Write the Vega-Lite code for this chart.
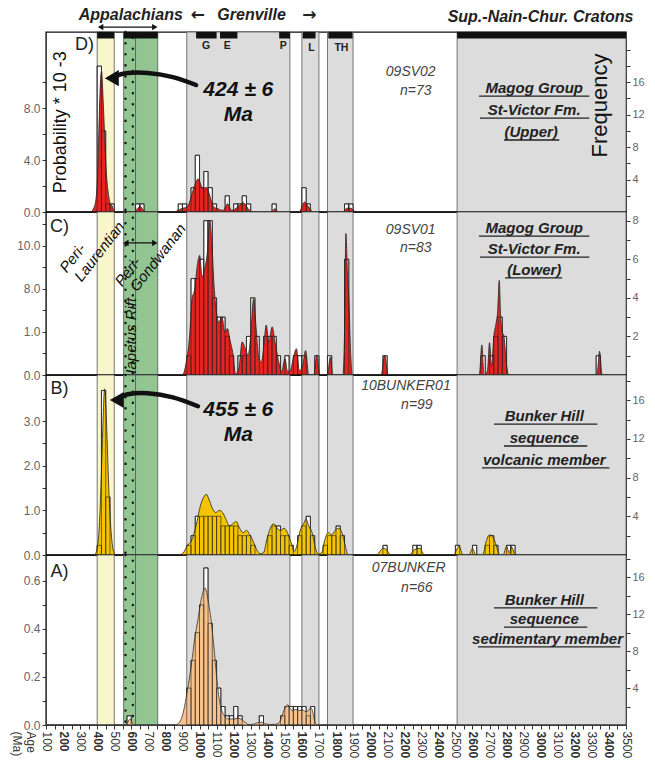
{
"$schema": "https://vega.github.io/schema/vega-lite/v6.json",
"padding": {"left": 9, "top": 5, "right": 5, "bottom": 2},
"background": "white",
"spacing": 0,
"bounds": "flush",
"config": {
 "font": "Liberation Sans",
 "view": {"stroke": "#111", "strokeWidth": 1.4},
 "axis": {"domain": false, "grid": false, "tickColor": "#333", "tickSize": 4, "labelColor": "#666", "labelFontSize": 12}
},
"datasets": {
 "bands": [{"a":400,"b":500,"zone":"yellow"},{"a":555,"b":625,"zone":"rift"},{"a":625,"b":755,"zone":"green"},{"a":925,"b":1530,"zone":"grey"},{"a":1600,"b":1700,"zone":"grey"},{"a":1750,"b":1900,"zone":"grey"},{"a":2510,"b":3500,"zone":"grey"}],
 "tabs": [{"a":400,"b":500},{"a":555,"b":755},{"a":980,"b":1100},{"a":1120,"b":1222},{"a":1467,"b":1530},{"a":1605,"b":1680},{"a":1755,"b":1897},{"a":2510,"b":3500}],
 "pdpD": [{"a":100,"v":0},{"a":360,"v":0},{"a":380,"v":0.3},{"a":393,"v":1.0},{"a":403,"v":3.0},{"a":410,"v":6.3},{"a":416,"v":9.0},{"a":422,"v":10.6},{"a":426,"v":10.8},{"a":432,"v":9.5},{"a":437,"v":8.0},{"a":442,"v":6.4},{"a":450,"v":4.0},{"a":456,"v":2.6},{"a":462,"v":1.8},{"a":470,"v":1.0},{"a":478,"v":0.6},{"a":487,"v":0.5},{"a":495,"v":0.2},{"a":505,"v":0},{"a":620,"v":0},{"a":638,"v":0.3},{"a":652,"v":0.45},{"a":668,"v":0.2},{"a":685,"v":0},{"a":850,"v":0},{"a":870,"v":0.1},{"a":893,"v":0.25},{"a":928,"v":0.4},{"a":945,"v":0.9},{"a":960,"v":1.6},{"a":972,"v":2.05},{"a":985,"v":2.45},{"a":991,"v":2.56},{"a":1000,"v":2.4},{"a":1012,"v":1.95},{"a":1020,"v":1.8},{"a":1030,"v":1.85},{"a":1040,"v":1.9},{"a":1050,"v":1.7},{"a":1059,"v":1.3},{"a":1070,"v":0.8},{"a":1079,"v":0.5},{"a":1095,"v":0.3},{"a":1108,"v":0.25},{"a":1125,"v":0.15},{"a":1140,"v":0.13},{"a":1155,"v":0.45},{"a":1164,"v":0.64},{"a":1175,"v":0.4},{"a":1187,"v":0.13},{"a":1200,"v":0.15},{"a":1215,"v":0.3},{"a":1235,"v":0.5},{"a":1256,"v":0.72},{"a":1270,"v":0.55},{"a":1285,"v":0.25},{"a":1300,"v":0.08},{"a":1314,"v":0},{"a":1420,"v":0},{"a":1442,"v":0.25},{"a":1462,"v":0},{"a":1585,"v":0},{"a":1600,"v":0.4},{"a":1615,"v":0.77},{"a":1630,"v":0.55},{"a":1648,"v":0.25},{"a":1665,"v":0},{"a":1840,"v":0},{"a":1858,"v":0.25},{"a":1869,"v":0.3},{"a":1880,"v":0.3},{"a":1893,"v":0.25},{"a":1910,"v":0.05},{"a":1925,"v":0},{"a":3500,"v":0}],
 "histD": [{"a":400,"b":425,"n":18},{"a":425,"b":450,"n":10},{"a":450,"b":475,"n":1},{"a":475,"b":500,"n":1},{"a":625,"b":650,"n":1},{"a":650,"b":675,"n":1},{"a":875,"b":900,"n":1},{"a":900,"b":925,"n":1},{"a":950,"b":975,"n":3},{"a":975,"b":1000,"n":7},{"a":1000,"b":1025,"n":3},{"a":1025,"b":1050,"n":5},{"a":1050,"b":1075,"n":3},{"a":1075,"b":1100,"n":1},{"a":1150,"b":1175,"n":2},{"a":1200,"b":1225,"n":1},{"a":1225,"b":1250,"n":1},{"a":1250,"b":1275,"n":2},{"a":1275,"b":1300,"n":1},{"a":1425,"b":1450,"n":1},{"a":1600,"b":1625,"n":3},{"a":1625,"b":1650,"n":1},{"a":1850,"b":1875,"n":1},{"a":1875,"b":1900,"n":1}],
 "pdpC": [{"a":100,"v":0},{"a":900,"v":0},{"a":922,"v":0.3},{"a":942,"v":0.92},{"a":956,"v":1.77},{"a":972,"v":2.0},{"a":987,"v":2.55},{"a":1001,"v":2.78},{"a":1015,"v":2.28},{"a":1030,"v":2.47},{"a":1046,"v":2.86},{"a":1060,"v":3.6},{"a":1073,"v":3.0},{"a":1085,"v":2.09},{"a":1099,"v":1.47},{"a":1113,"v":1.23},{"a":1132,"v":1.35},{"a":1148,"v":1.0},{"a":1164,"v":1.08},{"a":1177,"v":0.84},{"a":1197,"v":0.46},{"a":1211,"v":0.02},{"a":1230,"v":0.15},{"a":1250,"v":0.77},{"a":1269,"v":0.61},{"a":1285,"v":0.46},{"a":1300,"v":0.92},{"a":1317,"v":1.77},{"a":1332,"v":1.08},{"a":1348,"v":0.38},{"a":1363,"v":0.3},{"a":1377,"v":0.69},{"a":1391,"v":1.16},{"a":1406,"v":0.77},{"a":1426,"v":1.12},{"a":1442,"v":0.77},{"a":1461,"v":0.38},{"a":1481,"v":0.08},{"a":1501,"v":0.38},{"a":1516,"v":0.08},{"a":1532,"v":0.1},{"a":1550,"v":0.4},{"a":1568,"v":0.61},{"a":1585,"v":0.1},{"a":1603,"v":0.2},{"a":1622,"v":0.57},{"a":1640,"v":0},{"a":1670,"v":0},{"a":1687,"v":0.46},{"a":1705,"v":0},{"a":1750,"v":0},{"a":1766,"v":0.42},{"a":1782,"v":0},{"a":1840,"v":0},{"a":1850,"v":1.0},{"a":1858,"v":3.29},{"a":1867,"v":2.4},{"a":1876,"v":1.7},{"a":1886,"v":0.5},{"a":1896,"v":0},{"a":2065,"v":0},{"a":2085,"v":0.46},{"a":2105,"v":0},{"a":2640,"v":0},{"a":2655,"v":0.7},{"a":2668,"v":0},{"a":2688,"v":0.1},{"a":2700,"v":0.75},{"a":2712,"v":0.2},{"a":2725,"v":0.9},{"a":2738,"v":1.2},{"a":2748,"v":1.5},{"a":2757,"v":2.2},{"a":2765,"v":1.4},{"a":2775,"v":1.0},{"a":2785,"v":0.9},{"a":2798,"v":0.3},{"a":2812,"v":0},{"a":3330,"v":0},{"a":3345,"v":0.55},{"a":3360,"v":0},{"a":3500,"v":0}],
 "histC": [{"a":925,"b":950,"n":1},{"a":950,"b":975,"n":5},{"a":975,"b":1000,"n":5},{"a":1000,"b":1025,"n":6},{"a":1025,"b":1050,"n":8},{"a":1050,"b":1075,"n":8},{"a":1075,"b":1100,"n":4},{"a":1100,"b":1125,"n":3},{"a":1125,"b":1150,"n":3},{"a":1150,"b":1175,"n":2},{"a":1175,"b":1200,"n":1},{"a":1225,"b":1250,"n":1},{"a":1250,"b":1275,"n":1},{"a":1275,"b":1300,"n":2},{"a":1300,"b":1325,"n":4},{"a":1325,"b":1350,"n":2},{"a":1375,"b":1400,"n":2},{"a":1400,"b":1425,"n":2},{"a":1425,"b":1450,"n":2},{"a":1450,"b":1475,"n":1},{"a":1500,"b":1525,"n":1},{"a":1550,"b":1575,"n":1},{"a":1575,"b":1600,"n":1},{"a":1600,"b":1625,"n":1},{"a":1675,"b":1700,"n":1},{"a":1750,"b":1775,"n":1},{"a":1850,"b":1875,"n":6},{"a":2075,"b":2100,"n":1},{"a":2650,"b":2675,"n":1},{"a":2700,"b":2725,"n":1},{"a":2725,"b":2750,"n":2},{"a":2750,"b":2775,"n":3},{"a":2775,"b":2800,"n":2},{"a":3325,"b":3350,"n":1}],
 "pdpB": [{"a":100,"v":0},{"a":383,"v":0},{"a":400,"v":0.15},{"a":410,"v":0.5},{"a":420,"v":1.3},{"a":430,"v":2.5},{"a":437,"v":3.3},{"a":443,"v":3.72},{"a":450,"v":3.4},{"a":458,"v":2.6},{"a":466,"v":1.7},{"a":474,"v":1.0},{"a":482,"v":0.5},{"a":490,"v":0.2},{"a":498,"v":0.05},{"a":505,"v":0},{"a":880,"v":0},{"a":905,"v":0.05},{"a":930,"v":0.22},{"a":950,"v":0.3},{"a":965,"v":0.45},{"a":985,"v":0.75},{"a":1005,"v":1.1},{"a":1025,"v":1.3},{"a":1040,"v":1.36},{"a":1055,"v":1.25},{"a":1075,"v":1.05},{"a":1095,"v":0.95},{"a":1115,"v":1.0},{"a":1135,"v":0.95},{"a":1155,"v":0.8},{"a":1175,"v":0.65},{"a":1195,"v":0.7},{"a":1215,"v":0.75},{"a":1235,"v":0.6},{"a":1255,"v":0.5},{"a":1275,"v":0.55},{"a":1295,"v":0.45},{"a":1315,"v":0.3},{"a":1335,"v":0.12},{"a":1355,"v":0.03},{"a":1375,"v":0.05},{"a":1395,"v":0.35},{"a":1415,"v":0.6},{"a":1435,"v":0.7},{"a":1455,"v":0.6},{"a":1475,"v":0.55},{"a":1495,"v":0.6},{"a":1515,"v":0.5},{"a":1535,"v":0.3},{"a":1555,"v":0.08},{"a":1570,"v":0.2},{"a":1590,"v":0.55},{"a":1610,"v":0.7},{"a":1625,"v":0.8},{"a":1640,"v":0.65},{"a":1660,"v":0.5},{"a":1680,"v":0.15},{"a":1695,"v":0.02},{"a":1715,"v":0.05},{"a":1735,"v":0.35},{"a":1755,"v":0.5},{"a":1775,"v":0.45},{"a":1795,"v":0.55},{"a":1815,"v":0.6},{"a":1835,"v":0.5},{"a":1855,"v":0.2},{"a":1870,"v":0},{"a":2040,"v":0},{"a":2060,"v":0.1},{"a":2080,"v":0.15},{"a":2100,"v":0.1},{"a":2120,"v":0},{"a":2230,"v":0},{"a":2260,"v":0.12},{"a":2290,"v":0.15},{"a":2320,"v":0},{"a":2490,"v":0},{"a":2520,"v":0.2},{"a":2545,"v":0},{"a":2580,"v":0},{"a":2600,"v":0.15},{"a":2620,"v":0},{"a":2660,"v":0},{"a":2680,"v":0.3},{"a":2700,"v":0.45},{"a":2720,"v":0.4},{"a":2740,"v":0.2},{"a":2760,"v":0},{"a":2780,"v":0},{"a":2800,"v":0.2},{"a":2815,"v":0.05},{"a":2830,"v":0.18},{"a":2850,"v":0},{"a":3500,"v":0}],
 "histB": [{"a":400,"b":425,"n":1},{"a":425,"b":450,"n":17},{"a":450,"b":475,"n":6},{"a":925,"b":950,"n":1},{"a":950,"b":975,"n":2},{"a":975,"b":1000,"n":4},{"a":1000,"b":1025,"n":4},{"a":1025,"b":1050,"n":4},{"a":1050,"b":1075,"n":4},{"a":1075,"b":1100,"n":4},{"a":1100,"b":1125,"n":4},{"a":1125,"b":1150,"n":3},{"a":1150,"b":1175,"n":3},{"a":1175,"b":1200,"n":3},{"a":1200,"b":1225,"n":3},{"a":1225,"b":1250,"n":2},{"a":1250,"b":1275,"n":2},{"a":1275,"b":1300,"n":2},{"a":1300,"b":1325,"n":1},{"a":1400,"b":1425,"n":2},{"a":1425,"b":1450,"n":3},{"a":1450,"b":1475,"n":3},{"a":1475,"b":1500,"n":2},{"a":1500,"b":1525,"n":2},{"a":1525,"b":1550,"n":1},{"a":1575,"b":1600,"n":2},{"a":1600,"b":1625,"n":3},{"a":1625,"b":1650,"n":4},{"a":1650,"b":1675,"n":2},{"a":1725,"b":1750,"n":1},{"a":1750,"b":1775,"n":2},{"a":1775,"b":1800,"n":2},{"a":1800,"b":1825,"n":3},{"a":1825,"b":1850,"n":2},{"a":2075,"b":2100,"n":1},{"a":2250,"b":2275,"n":1},{"a":2275,"b":2300,"n":1},{"a":2500,"b":2525,"n":1},{"a":2600,"b":2625,"n":1},{"a":2675,"b":2700,"n":1},{"a":2700,"b":2725,"n":2},{"a":2725,"b":2750,"n":1},{"a":2800,"b":2825,"n":1},{"a":2825,"b":2850,"n":1}],
 "pdpA": [{"a":100,"v":0},{"a":570,"v":0},{"a":585,"v":0.02},{"a":595,"v":0.025},{"a":607,"v":0.005},{"a":615,"v":0},{"a":860,"v":0},{"a":874,"v":0.005},{"a":900,"v":0.04},{"a":928,"v":0.14},{"a":952,"v":0.25},{"a":972,"v":0.36},{"a":991,"v":0.44},{"a":1012,"v":0.53},{"a":1034,"v":0.57},{"a":1050,"v":0.52},{"a":1069,"v":0.43},{"a":1085,"v":0.32},{"a":1099,"v":0.21},{"a":1113,"v":0.12},{"a":1128,"v":0.067},{"a":1150,"v":0.035},{"a":1168,"v":0.025},{"a":1200,"v":0.025},{"a":1230,"v":0.028},{"a":1260,"v":0.015},{"a":1290,"v":0.002},{"a":1320,"v":0.004},{"a":1345,"v":0.01},{"a":1362,"v":0.012},{"a":1385,"v":0.005},{"a":1420,"v":0.002},{"a":1460,"v":0.005},{"a":1480,"v":0.03},{"a":1500,"v":0.07},{"a":1517,"v":0.085},{"a":1530,"v":0.07},{"a":1545,"v":0.06},{"a":1565,"v":0.065},{"a":1585,"v":0.06},{"a":1605,"v":0.062},{"a":1625,"v":0.055},{"a":1645,"v":0.065},{"a":1656,"v":0.07},{"a":1668,"v":0.04},{"a":1680,"v":0.005},{"a":1690,"v":0},{"a":3500,"v":0}],
 "histA": [{"a":575,"b":600,"n":1},{"a":925,"b":950,"n":4},{"a":950,"b":975,"n":7},{"a":975,"b":1000,"n":10},{"a":1000,"b":1025,"n":13},{"a":1025,"b":1050,"n":17},{"a":1050,"b":1075,"n":11},{"a":1075,"b":1100,"n":7},{"a":1100,"b":1125,"n":4},{"a":1125,"b":1150,"n":2},{"a":1150,"b":1175,"n":1},{"a":1175,"b":1200,"n":1},{"a":1200,"b":1225,"n":2},{"a":1225,"b":1250,"n":1},{"a":1350,"b":1375,"n":1},{"a":1475,"b":1500,"n":1},{"a":1500,"b":1525,"n":2},{"a":1525,"b":1550,"n":2},{"a":1550,"b":1575,"n":2},{"a":1575,"b":1600,"n":2},{"a":1600,"b":1625,"n":2},{"a":1625,"b":1650,"n":1},{"a":1650,"b":1675,"n":2}],
 "notes": [
  {"p":"D","k":"letter","a":326,"v":12.85,"t":"D)"},
  {"p":"D","k":"prob","a":188,"v":6.9,"t":"Probability * 10 -3"},
  {"p":"D","k":"freq","a":3346,"v":8.2,"t":"Frequency"},
  {"p":"D","k":"age","a":1227,"v":9.38,"t":"424 ± 6"},
  {"p":"D","k":"age","a":1227,"v":7.46,"t":"Ma"},
  {"p":"D","k":"sample","a":2238,"v":10.77,"t":"09SV02"},
  {"p":"D","k":"sample","a":2268,"v":9.3,"t":"n=73"},
  {"p":"D","k":"unit","a":2962,"v":9.54,"t":"Magog Group"},
  {"p":"D","k":"unit","a":2962,"v":7.85,"t":"St-Victor Fm."},
  {"p":"D","k":"unit","a":2944,"v":6.15,"t":"(Upper)"},
  {"p":"D","k":"header","a":597,"v":15.15,"t":"Appalachians"},
  {"p":"D","k":"harr","a":991,"v":15.15,"t":"←"},
  {"p":"D","k":"header","a":1305,"v":15.15,"t":"Grenville"},
  {"p":"D","k":"harr","a":1644,"v":15.15,"t":"→"},
  {"p":"D","k":"header","a":2999,"v":15.0,"t":"Sup.-Nain-Chur. Cratons"},
  {"p":"D","k":"tab","a":1039,"v":12.75,"t":"G"},
  {"p":"D","k":"tab","a":1162,"v":12.75,"t":"E"},
  {"p":"D","k":"tab","a":1491,"v":12.75,"t":"P"},
  {"p":"D","k":"tab","a":1656,"v":12.6,"t":"L"},
  {"p":"D","k":"tab","a":1832,"v":12.6,"t":"TH"},
  {"p":"C","k":"letter","a":179,"v":3.44,"t":"C)"},
  {"p":"C","k":"sample","a":2238,"v":3.37,"t":"09SV01"},
  {"p":"C","k":"sample","a":2268,"v":2.95,"t":"n=83"},
  {"p":"C","k":"unit","a":2962,"v":3.42,"t":"Magog Group"},
  {"p":"C","k":"unit","a":2962,"v":2.93,"t":"St-Victor Fm."},
  {"p":"C","k":"unit","a":2962,"v":2.44,"t":"(Lower)"},
  {"p":"C","k":"peri","a":256,"v":2.72,"t":"Peri-"},
  {"p":"C","k":"peri","a":413,"v":2.87,"t":"Laurentian"},
  {"p":"C","k":"peri","a":579,"v":2.40,"t":"Peri-"},
  {"p":"C","k":"peri","a":756,"v":2.73,"t":"Gondwanan"},
  {"p":"C","k":"rift","a":599,"v":0.03,"t":"Iapetus Rift"},
  {"p":"B","k":"letter","a":179,"v":3.71,"t":"B)"},
  {"p":"B","k":"age","a":1227,"v":3.24,"t":"455 ± 6"},
  {"p":"B","k":"age","a":1227,"v":2.68,"t":"Ma"},
  {"p":"B","k":"sample","a":2210,"v":3.78,"t":"10BUNKER01"},
  {"p":"B","k":"sample","a":2274,"v":3.36,"t":"n=99"},
  {"p":"B","k":"unit","a":3021,"v":3.11,"t":"Bunker Hill"},
  {"p":"B","k":"unit","a":3021,"v":2.62,"t":"sequence"},
  {"p":"B","k":"unit","a":3021,"v":2.13,"t":"volcanic member"},
  {"p":"A","k":"letter","a":179,"v":0.6375,"t":"A)"},
  {"p":"A","k":"sample","a":2226,"v":0.654,"t":"07BUNKER"},
  {"p":"A","k":"sample","a":2274,"v":0.571,"t":"n=66"},
  {"p":"A","k":"unit","a":3021,"v":0.52,"t":"Bunker Hill"},
  {"p":"A","k":"unit","a":3021,"v":0.44,"t":"sequence"},
  {"p":"A","k":"unit","a":3040,"v":0.358,"t":"sedimentary member"}
 ],
 "ul": [
  {"p":"D","a":2638,"b":3285,"v":8.92},{"p":"D","a":2644,"b":3285,"v":7.23},{"p":"D","a":2785,"b":3109,"v":5.54},
  {"p":"C","a":2638,"b":3285,"v":3.23},{"p":"C","a":2644,"b":3285,"v":2.74},{"p":"C","a":2791,"b":3126,"v":2.26},
  {"p":"B","a":2726,"b":3332,"v":2.93},{"p":"B","a":2785,"b":3273,"v":2.44},{"p":"B","a":2656,"b":3403,"v":1.95},
  {"p":"A","a":2726,"b":3332,"v":0.4875},{"p":"A","a":2785,"b":3273,"v":0.408},{"p":"A","a":2632,"b":3467,"v":0.325}
 ],
 "arr": [
  {"p":"D","g":"d1","k":"big","o":1,"a":980,"v":9.77},{"p":"D","g":"d1","k":"big","o":2,"a":844,"v":10.38},{"p":"D","g":"d1","k":"big","o":3,"a":697,"v":10.69},{"p":"D","g":"d1","k":"big","o":4,"a":579,"v":10.69},{"p":"D","g":"d1","k":"big","o":5,"a":505,"v":10.45},
  {"p":"D","g":"d2","k":"small","o":1,"a":425,"v":14.23},{"p":"D","g":"d2","k":"small","o":2,"a":735,"v":14.23},
  {"p":"C","g":"c1","k":"small","o":1,"a":572,"v":3.07},{"p":"C","g":"c1","k":"small","o":2,"a":734,"v":3.07},
  {"p":"B","g":"b1","k":"big","o":1,"a":991,"v":3.33},{"p":"B","g":"b1","k":"big","o":2,"a":844,"v":3.53},{"p":"B","g":"b1","k":"big","o":3,"a":697,"v":3.62},{"p":"B","g":"b1","k":"big","o":4,"a":579,"v":3.6},{"p":"B","g":"b1","k":"big","o":5,"a":535,"v":3.52}
 ],
 "heads": [
  {"p":"D","dir":"left","k":"big","a":486,"v":10.3},
  {"p":"D","dir":"left","k":"small","a":420,"v":14.23},
  {"p":"D","dir":"right","k":"small","a":738,"v":14.23},
  {"p":"C","dir":"left","k":"small","a":568,"v":3.07},
  {"p":"C","dir":"right","k":"small","a":738,"v":3.07},
  {"p":"B","dir":"left","k":"big","a":515,"v":3.47}
 ]
},
"vconcat": [
 {
  "width": 580, "height": 180,
  "encoding": {"x": {"field": "a", "type": "quantitative", "scale": {"domain": [100, 3500], "nice": false, "zero": false}, "axis": null}},
  "layer": [
   {"data": {"name": "bands"}, "mark": {"type": "rect", "stroke": "#555", "strokeWidth": 0.8}, "encoding": {"x2": {"field": "b"}, "color": {"field": "zone", "type": "nominal", "scale": {"domain": ["yellow","rift","green","grey"], "range": ["#f8f6ca","#92c592","#92c592","#dcdcdc"]}, "legend": null}}},
   {"data": {"values": [{"a": 566}]}, "mark": {"type": "rule", "color": "#111", "strokeWidth": 2.4, "strokeCap": "round", "strokeDash": [0.1, 11]}, "encoding": {}},
   {"data": {"values": [{"a": 609}]}, "mark": {"type": "rule", "color": "#111", "strokeWidth": 2.4, "strokeCap": "round", "strokeDash": [0.1, 11], "strokeDashOffset": 5.5}, "encoding": {}},
   {"data": {"name": "histD"}, "mark": {"type": "rect", "fill": "#fff", "stroke": "#222", "strokeWidth": 0.8}, "encoding": {"x2": {"field": "b"}, "y": {"field": "n", "type": "quantitative", "scale": {"domain": [0, 22.2], "nice": false}, "axis": null}, "y2": {"datum": 0}}},
   {"data": {"name": "pdpD"}, "mark": {"type": "area", "interpolate": "monotone", "fill": "#e52421", "stroke": "#222", "strokeWidth": 0.8}, "encoding": {"y": {"field": "v", "type": "quantitative", "scale": {"domain": [0, 13.85], "nice": false}, "axis": {"orient": "left", "title": null, "values": [0,2,4,6,8,10], "labelExpr": "datum.value % 4 == 0 ? format(datum.value, '.1f') : ''"}}}},
   {"data": {"name": "histD"}, "mark": {"type": "rect", "fillOpacity": 0, "stroke": "#222", "strokeWidth": 0.6}, "encoding": {"x2": {"field": "b"}, "y": {"field": "n", "type": "quantitative", "scale": {"domain": [0, 22.2], "nice": false}, "axis": {"orient": "right", "title": null, "values": [2,4,6,8,10,12,14,16,18,20], "labelExpr": "datum.value % 4 == 0 && datum.value < 20 ? datum.label : ''", "labelFontSize": 11}}, "y2": {"datum": 0}}},
   {"data": {"name": "tabs"}, "mark": {"type": "rect", "color": "#111"}, "encoding": {"x2": {"field": "b"}, "y": {"datum": 13.85, "type": "quantitative", "scale": {"domain": [0, 13.85], "nice": false}, "axis": null}, "y2": {"datum": 13.35}}},
   {"data": {"name": "notes"}, "transform": [{"filter": "datum.p == 'D' && datum.k == 'letter'"}], "mark": {"type": "text", "fontSize": 18, "color": "#222"}, "encoding": {"y": {"field": "v", "type": "quantitative", "scale": {"domain": [0, 13.85], "nice": false}, "axis": null}, "text": {"field": "t"}}},
   {"data": {"name": "notes"}, "transform": [{"filter": "datum.p == 'D' && datum.k == 'prob'"}], "mark": {"type": "text", "fontSize": 18, "angle": 270, "color": "#111"}, "encoding": {"y": {"field": "v", "type": "quantitative", "scale": {"domain": [0, 13.85], "nice": false}, "axis": null}, "text": {"field": "t"}}},
   {"data": {"name": "notes"}, "transform": [{"filter": "datum.p == 'D' && datum.k == 'freq'"}], "mark": {"type": "text", "fontSize": 22, "angle": 270, "color": "#111"}, "encoding": {"y": {"field": "v", "type": "quantitative", "scale": {"domain": [0, 13.85], "nice": false}, "axis": null}, "text": {"field": "t"}}},
   {"data": {"name": "notes"}, "transform": [{"filter": "datum.p == 'D' && datum.k == 'age'"}], "mark": {"type": "text", "fontSize": 21, "fontWeight": "bold", "fontStyle": "italic", "color": "#111"}, "encoding": {"y": {"field": "v", "type": "quantitative", "scale": {"domain": [0, 13.85], "nice": false}, "axis": null}, "text": {"field": "t"}}},
   {"data": {"name": "notes"}, "transform": [{"filter": "datum.p == 'D' && datum.k == 'sample'"}], "mark": {"type": "text", "fontSize": 14, "fontStyle": "italic", "color": "#444"}, "encoding": {"y": {"field": "v", "type": "quantitative", "scale": {"domain": [0, 13.85], "nice": false}, "axis": null}, "text": {"field": "t"}}},
   {"data": {"name": "notes"}, "transform": [{"filter": "datum.p == 'D' && datum.k == 'unit'"}], "mark": {"type": "text", "fontSize": 15, "fontWeight": "bold", "fontStyle": "italic", "color": "#222"}, "encoding": {"y": {"field": "v", "type": "quantitative", "scale": {"domain": [0, 13.85], "nice": false}, "axis": null}, "text": {"field": "t"}}},
   {"data": {"name": "notes"}, "transform": [{"filter": "datum.p == 'D' && datum.k == 'header'"}], "mark": {"type": "text", "fontSize": 16, "fontWeight": "bold", "fontStyle": "italic", "color": "#222"}, "encoding": {"y": {"field": "v", "type": "quantitative", "scale": {"domain": [0, 13.85], "nice": false}, "axis": null}, "text": {"field": "t"}}},
   {"data": {"name": "notes"}, "transform": [{"filter": "datum.p == 'D' && datum.k == 'harr'"}], "mark": {"type": "text", "font": "DejaVu Sans", "fontSize": 17, "fontWeight": "bold", "color": "#222"}, "encoding": {"y": {"field": "v", "type": "quantitative", "scale": {"domain": [0, 13.85], "nice": false}, "axis": null}, "text": {"field": "t"}}},
   {"data": {"name": "notes"}, "transform": [{"filter": "datum.p == 'D' && datum.k == 'tab'"}], "mark": {"type": "text", "fontSize": 10.5, "fontWeight": "bold", "color": "#222"}, "encoding": {"y": {"field": "v", "type": "quantitative", "scale": {"domain": [0, 13.85], "nice": false}, "axis": null}, "text": {"field": "t"}}},
   {"data": {"name": "ul"}, "transform": [{"filter": "datum.p == 'D'"}], "mark": {"type": "rule", "color": "#222", "strokeWidth": 1.3}, "encoding": {"x2": {"field": "b"}, "y": {"field": "v", "type": "quantitative", "scale": {"domain": [0, 13.85], "nice": false}, "axis": null}}},
   {"data": {"name": "arr"}, "transform": [{"filter": "datum.p == 'D'"}], "mark": {"type": "line", "interpolate": "cardinal", "color": "#111", "strokeCap": "round"}, "encoding": {"y": {"field": "v", "type": "quantitative", "scale": {"domain": [0, 13.85], "nice": false}, "axis": null}, "detail": {"field": "g"}, "order": {"field": "o"}, "strokeWidth": {"field": "k", "type": "ordinal", "scale": {"domain": ["big","small"], "range": [4.5, 1.2]}, "legend": null}}},
   {"data": {"name": "heads"}, "transform": [{"filter": "datum.p == 'D'"}], "mark": {"type": "point", "filled": true, "color": "#111", "opacity": 1}, "encoding": {"y": {"field": "v", "type": "quantitative", "scale": {"domain": [0, 13.85], "nice": false}, "axis": null}, "shape": {"field": "dir", "type": "nominal", "scale": {"domain": ["left","right"], "range": ["triangle-left","triangle-right"]}, "legend": null}, "size": {"field": "k", "type": "ordinal", "scale": {"domain": ["big","small"], "range": [260, 40]}, "legend": null}}}
  ],
  "resolve": {"scale": {"y": "independent"}, "axis": {"y": "independent"}}
 },
 {
  "width": 580, "height": 163,
  "encoding": {"x": {"field": "a", "type": "quantitative", "scale": {"domain": [100, 3500], "nice": false, "zero": false}, "axis": null}},
  "layer": [
   {"data": {"name": "bands"}, "mark": {"type": "rect", "stroke": "#555", "strokeWidth": 0.8}, "encoding": {"x2": {"field": "b"}, "color": {"field": "zone", "type": "nominal", "scale": {"domain": ["yellow","rift","green","grey"], "range": ["#f8f6ca","#92c592","#92c592","#dcdcdc"]}, "legend": null}}},
   {"data": {"values": [{"a": 566}]}, "mark": {"type": "rule", "color": "#111", "strokeWidth": 2.4, "strokeCap": "round", "strokeDash": [0.1, 11]}, "encoding": {}},
   {"data": {"values": [{"a": 609}]}, "mark": {"type": "rule", "color": "#111", "strokeWidth": 2.4, "strokeCap": "round", "strokeDash": [0.1, 11], "strokeDashOffset": 5.5}, "encoding": {}},
   {"data": {"name": "histC"}, "mark": {"type": "rect", "fill": "#fff", "stroke": "#222", "strokeWidth": 0.8}, "encoding": {"x2": {"field": "b"}, "y": {"field": "n", "type": "quantitative", "scale": {"domain": [0, 8.45], "nice": false}, "axis": null}, "y2": {"datum": 0}}},
   {"data": {"name": "pdpC"}, "mark": {"type": "area", "interpolate": "monotone", "fill": "#e52421", "stroke": "#222", "strokeWidth": 0.8}, "encoding": {"y": {"field": "v", "type": "quantitative", "scale": {"domain": [0, 3.79], "nice": false}, "axis": {"orient": "left", "title": null, "values": [0,0.5,1,1.5,2,2.5,3,3.5], "labelExpr": "datum.value == 0 ? '0.0' : datum.value == 1 ? '1.0' : datum.value == 2 ? '8.0' : datum.value == 3 ? '10.0' : ''"}}}},
   {"data": {"name": "histC"}, "mark": {"type": "rect", "fillOpacity": 0, "stroke": "#222", "strokeWidth": 0.6}, "encoding": {"x2": {"field": "b"}, "y": {"field": "n", "type": "quantitative", "scale": {"domain": [0, 8.45], "nice": false}, "axis": {"orient": "right", "title": null, "values": [1,2,3,4,5,6,7,8], "labelExpr": "datum.value % 2 == 0 ? datum.label : ''", "labelFontSize": 11}}, "y2": {"datum": 0}}},
   {"data": {"name": "notes"}, "transform": [{"filter": "datum.p == 'C' && datum.k == 'letter'"}], "mark": {"type": "text", "fontSize": 18, "color": "#222"}, "encoding": {"y": {"field": "v", "type": "quantitative", "scale": {"domain": [0, 3.79], "nice": false}, "axis": null}, "text": {"field": "t"}}},
   {"data": {"name": "notes"}, "transform": [{"filter": "datum.p == 'C' && datum.k == 'sample'"}], "mark": {"type": "text", "fontSize": 14, "fontStyle": "italic", "color": "#444"}, "encoding": {"y": {"field": "v", "type": "quantitative", "scale": {"domain": [0, 3.79], "nice": false}, "axis": null}, "text": {"field": "t"}}},
   {"data": {"name": "notes"}, "transform": [{"filter": "datum.p == 'C' && datum.k == 'unit'"}], "mark": {"type": "text", "fontSize": 15, "fontWeight": "bold", "fontStyle": "italic", "color": "#222"}, "encoding": {"y": {"field": "v", "type": "quantitative", "scale": {"domain": [0, 3.79], "nice": false}, "axis": null}, "text": {"field": "t"}}},
   {"data": {"name": "notes"}, "transform": [{"filter": "datum.p == 'C' && datum.k == 'peri'"}], "mark": {"type": "text", "fontSize": 15, "fontStyle": "italic", "angle": 308, "color": "#111"}, "encoding": {"y": {"field": "v", "type": "quantitative", "scale": {"domain": [0, 3.79], "nice": false}, "axis": null}, "text": {"field": "t"}}},
   {"data": {"name": "notes"}, "transform": [{"filter": "datum.p == 'C' && datum.k == 'rift'"}], "mark": {"type": "text", "fontSize": 15, "fontStyle": "italic", "angle": 270, "align": "left", "baseline": "middle", "color": "#111"}, "encoding": {"y": {"field": "v", "type": "quantitative", "scale": {"domain": [0, 3.79], "nice": false}, "axis": null}, "text": {"field": "t"}}},
   {"data": {"name": "ul"}, "transform": [{"filter": "datum.p == 'C'"}], "mark": {"type": "rule", "color": "#222", "strokeWidth": 1.3}, "encoding": {"x2": {"field": "b"}, "y": {"field": "v", "type": "quantitative", "scale": {"domain": [0, 3.79], "nice": false}, "axis": null}}},
   {"data": {"name": "arr"}, "transform": [{"filter": "datum.p == 'C'"}], "mark": {"type": "line", "interpolate": "cardinal", "color": "#111", "strokeCap": "round"}, "encoding": {"y": {"field": "v", "type": "quantitative", "scale": {"domain": [0, 3.79], "nice": false}, "axis": null}, "detail": {"field": "g"}, "order": {"field": "o"}, "strokeWidth": {"field": "k", "type": "ordinal", "scale": {"domain": ["big","small"], "range": [4.5, 1.2]}, "legend": null}}},
   {"data": {"name": "heads"}, "transform": [{"filter": "datum.p == 'C'"}], "mark": {"type": "point", "filled": true, "color": "#111", "opacity": 1}, "encoding": {"y": {"field": "v", "type": "quantitative", "scale": {"domain": [0, 3.79], "nice": false}, "axis": null}, "shape": {"field": "dir", "type": "nominal", "scale": {"domain": ["left","right"], "range": ["triangle-left","triangle-right"]}, "legend": null}, "size": {"field": "k", "type": "ordinal", "scale": {"domain": ["big","small"], "range": [260, 40]}, "legend": null}}}
  ],
  "resolve": {"scale": {"y": "independent"}, "axis": {"y": "independent"}}
 },
 {
  "width": 580, "height": 180,
  "encoding": {"x": {"field": "a", "type": "quantitative", "scale": {"domain": [100, 3500], "nice": false, "zero": false}, "axis": null}},
  "layer": [
   {"data": {"name": "bands"}, "mark": {"type": "rect", "stroke": "#555", "strokeWidth": 0.8}, "encoding": {"x2": {"field": "b"}, "color": {"field": "zone", "type": "nominal", "scale": {"domain": ["yellow","rift","green","grey"], "range": ["#f8f6ca","#92c592","#92c592","#dcdcdc"]}, "legend": null}}},
   {"data": {"values": [{"a": 566}]}, "mark": {"type": "rule", "color": "#111", "strokeWidth": 2.4, "strokeCap": "round", "strokeDash": [0.1, 11]}, "encoding": {}},
   {"data": {"values": [{"a": 609}]}, "mark": {"type": "rule", "color": "#111", "strokeWidth": 2.4, "strokeCap": "round", "strokeDash": [0.1, 11], "strokeDashOffset": 5.5}, "encoding": {}},
   {"data": {"name": "histB"}, "mark": {"type": "rect", "fill": "#fff", "stroke": "#222", "strokeWidth": 0.8}, "encoding": {"x2": {"field": "b"}, "y": {"field": "n", "type": "quantitative", "scale": {"domain": [0, 18.6], "nice": false}, "axis": null}, "y2": {"datum": 0}}},
   {"data": {"name": "pdpB"}, "mark": {"type": "area", "interpolate": "monotone", "fill": "#f5c400", "stroke": "#222", "strokeWidth": 0.8}, "encoding": {"y": {"field": "v", "type": "quantitative", "scale": {"domain": [0, 4.03], "nice": false}, "axis": {"orient": "left", "title": null, "values": [0,0.5,1,1.5,2,2.5,3,3.5], "labelExpr": "datum.value % 1 == 0 ? format(datum.value, '.1f') : ''"}}}},
   {"data": {"name": "histB"}, "mark": {"type": "rect", "fillOpacity": 0, "stroke": "#222", "strokeWidth": 0.6}, "encoding": {"x2": {"field": "b"}, "y": {"field": "n", "type": "quantitative", "scale": {"domain": [0, 18.6], "nice": false}, "axis": {"orient": "right", "title": null, "values": [2,4,6,8,10,12,14,16,18], "labelExpr": "datum.value % 4 == 0 ? datum.label : ''", "labelFontSize": 11}}, "y2": {"datum": 0}}},
   {"data": {"name": "notes"}, "transform": [{"filter": "datum.p == 'B' && datum.k == 'letter'"}], "mark": {"type": "text", "fontSize": 18, "color": "#222"}, "encoding": {"y": {"field": "v", "type": "quantitative", "scale": {"domain": [0, 4.03], "nice": false}, "axis": null}, "text": {"field": "t"}}},
   {"data": {"name": "notes"}, "transform": [{"filter": "datum.p == 'B' && datum.k == 'age'"}], "mark": {"type": "text", "fontSize": 21, "fontWeight": "bold", "fontStyle": "italic", "color": "#111"}, "encoding": {"y": {"field": "v", "type": "quantitative", "scale": {"domain": [0, 4.03], "nice": false}, "axis": null}, "text": {"field": "t"}}},
   {"data": {"name": "notes"}, "transform": [{"filter": "datum.p == 'B' && datum.k == 'sample'"}], "mark": {"type": "text", "fontSize": 14, "fontStyle": "italic", "color": "#444"}, "encoding": {"y": {"field": "v", "type": "quantitative", "scale": {"domain": [0, 4.03], "nice": false}, "axis": null}, "text": {"field": "t"}}},
   {"data": {"name": "notes"}, "transform": [{"filter": "datum.p == 'B' && datum.k == 'unit'"}], "mark": {"type": "text", "fontSize": 15, "fontWeight": "bold", "fontStyle": "italic", "color": "#222"}, "encoding": {"y": {"field": "v", "type": "quantitative", "scale": {"domain": [0, 4.03], "nice": false}, "axis": null}, "text": {"field": "t"}}},
   {"data": {"name": "ul"}, "transform": [{"filter": "datum.p == 'B'"}], "mark": {"type": "rule", "color": "#222", "strokeWidth": 1.3}, "encoding": {"x2": {"field": "b"}, "y": {"field": "v", "type": "quantitative", "scale": {"domain": [0, 4.03], "nice": false}, "axis": null}}},
   {"data": {"name": "arr"}, "transform": [{"filter": "datum.p == 'B'"}], "mark": {"type": "line", "interpolate": "cardinal", "color": "#111", "strokeCap": "round"}, "encoding": {"y": {"field": "v", "type": "quantitative", "scale": {"domain": [0, 4.03], "nice": false}, "axis": null}, "detail": {"field": "g"}, "order": {"field": "o"}, "strokeWidth": {"field": "k", "type": "ordinal", "scale": {"domain": ["big","small"], "range": [4.5, 1.2]}, "legend": null}}},
   {"data": {"name": "heads"}, "transform": [{"filter": "datum.p == 'B'"}], "mark": {"type": "point", "filled": true, "color": "#111", "opacity": 1}, "encoding": {"y": {"field": "v", "type": "quantitative", "scale": {"domain": [0, 4.03], "nice": false}, "axis": null}, "shape": {"field": "dir", "type": "nominal", "scale": {"domain": ["left","right"], "range": ["triangle-left","triangle-right"]}, "legend": null}, "size": {"field": "k", "type": "ordinal", "scale": {"domain": ["big","small"], "range": [260, 40]}, "legend": null}}}
  ],
  "resolve": {"scale": {"y": "independent"}, "axis": {"y": "independent"}}
 },
 {
  "width": 580, "height": 170,
  "encoding": {"x": {"field": "a", "type": "quantitative", "scale": {"domain": [100, 3500], "nice": false, "zero": false}, "axis": {"title": ["Age", "(Ma)"], "values": [100,150,200,250,300,350,400,450,500,550,600,650,700,750,800,850,900,950,1000,1050,1100,1150,1200,1250,1300,1350,1400,1450,1500,1550,1600,1650,1700,1750,1800,1850,1900,1950,2000,2050,2100,2150,2200,2250,2300,2350,2400,2450,2500,2550,2600,2650,2700,2750,2800,2850,2900,2950,3000,3050,3100,3150,3200,3250,3300,3350,3400,3450,3500], "format": "d", "labelExpr": "datum.value % 100 == 0 ? datum.label : ''", "labelAngle": 90, "labelAlign": "left", "labelBaseline": "middle", "labelFlush": false, "labelOverlap": false, "labelPadding": 2, "labelColor": "#333", "labelFontSize": 12, "labelFontWeight": {"condition": {"test": "datum.value % 200 == 0", "value": "bold"}, "value": "normal"}, "titleAngle": 90, "titleX": -11, "titleY": 6, "titleAlign": "left", "titleBaseline": "top", "titleFontWeight": "normal", "titleFontSize": 12, "titleColor": "#333"}}},
  "layer": [
   {"data": {"name": "bands"}, "mark": {"type": "rect", "stroke": "#555", "strokeWidth": 0.8}, "encoding": {"x2": {"field": "b"}, "color": {"field": "zone", "type": "nominal", "scale": {"domain": ["yellow","rift","green","grey"], "range": ["#f8f6ca","#92c592","#92c592","#dcdcdc"]}, "legend": null}}},
   {"data": {"values": [{"a": 566}]}, "mark": {"type": "rule", "color": "#111", "strokeWidth": 2.4, "strokeCap": "round", "strokeDash": [0.1, 11]}, "encoding": {}},
   {"data": {"values": [{"a": 609}]}, "mark": {"type": "rule", "color": "#111", "strokeWidth": 2.4, "strokeCap": "round", "strokeDash": [0.1, 11], "strokeDashOffset": 5.5}, "encoding": {}},
   {"data": {"name": "histA"}, "mark": {"type": "rect", "fill": "#fff", "stroke": "#222", "strokeWidth": 0.8}, "encoding": {"x2": {"field": "b"}, "y": {"field": "n", "type": "quantitative", "scale": {"domain": [0, 18.4], "nice": false}, "axis": null}, "y2": {"datum": 0}}},
   {"data": {"name": "pdpA"}, "mark": {"type": "area", "interpolate": "monotone", "fill": "#f8c28d", "stroke": "#333", "strokeWidth": 0.8}, "encoding": {"y": {"field": "v", "type": "quantitative", "scale": {"domain": [0, 0.708], "nice": false}, "axis": {"orient": "left", "title": null, "values": [0,0.1,0.2,0.3,0.4,0.5,0.6], "labelExpr": "round(datum.value * 10) % 2 == 0 ? format(datum.value, '.1f') : ''"}}}},
   {"data": {"name": "histA"}, "mark": {"type": "rect", "fillOpacity": 0, "stroke": "#222", "strokeWidth": 0.6}, "encoding": {"x2": {"field": "b"}, "y": {"field": "n", "type": "quantitative", "scale": {"domain": [0, 18.4], "nice": false}, "axis": {"orient": "right", "title": null, "values": [2,4,6,8,10,12,14,16,18], "labelExpr": "datum.value % 4 == 0 ? datum.label : ''", "labelFontSize": 11}}, "y2": {"datum": 0}}},
   {"data": {"name": "notes"}, "transform": [{"filter": "datum.p == 'A' && datum.k == 'letter'"}], "mark": {"type": "text", "fontSize": 18, "color": "#222"}, "encoding": {"y": {"field": "v", "type": "quantitative", "scale": {"domain": [0, 0.708], "nice": false}, "axis": null}, "text": {"field": "t"}}},
   {"data": {"name": "notes"}, "transform": [{"filter": "datum.p == 'A' && datum.k == 'sample'"}], "mark": {"type": "text", "fontSize": 14, "fontStyle": "italic", "color": "#444"}, "encoding": {"y": {"field": "v", "type": "quantitative", "scale": {"domain": [0, 0.708], "nice": false}, "axis": null}, "text": {"field": "t"}}},
   {"data": {"name": "notes"}, "transform": [{"filter": "datum.p == 'A' && datum.k == 'unit'"}], "mark": {"type": "text", "fontSize": 15, "fontWeight": "bold", "fontStyle": "italic", "color": "#222"}, "encoding": {"y": {"field": "v", "type": "quantitative", "scale": {"domain": [0, 0.708], "nice": false}, "axis": null}, "text": {"field": "t"}}},
   {"data": {"name": "ul"}, "transform": [{"filter": "datum.p == 'A'"}], "mark": {"type": "rule", "color": "#222", "strokeWidth": 1.3}, "encoding": {"x2": {"field": "b"}, "y": {"field": "v", "type": "quantitative", "scale": {"domain": [0, 0.708], "nice": false}, "axis": null}}}
  ],
  "resolve": {"scale": {"y": "independent"}, "axis": {"y": "independent"}}
 }
]
}
